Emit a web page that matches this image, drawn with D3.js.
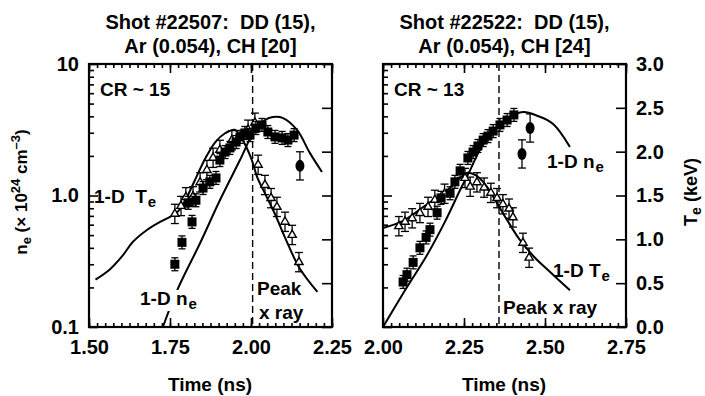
<!DOCTYPE html>
<html>
<head>
<meta charset="utf-8">
<script src="https://cdn.jsdelivr.net/npm/d3@7"></script>
<style>
  body { margin: 0; background: #fff; }
  svg text { font-family: "Liberation Sans", Arial, Helvetica, sans-serif; font-weight: bold; fill: #000; white-space: pre; }
</style>
</head>
<body>
<svg id="chart" width="705" height="396"></svg>
<script>
// ---------- Shot #22507 (left panel) ----------
const leftTitle = ["Shot #22507:  DD (15),", "Ar (0.054), CH [20]"];
const leftCR = "CR ~ 15";
const leftTimeTicks = [1.50, 1.75, 2.00, 2.25];
const leftXray = 2.005;

// measured electron density (10^24 cm^-3), filled squares
const leftNeTime = [1.765, 1.787, 1.818, 1.806, 1.830, 1.852, 1.873, 1.892, 1.904, 1.920, 1.935,
                    1.954, 1.966, 1.981, 1.997, 2.015, 2.034, 2.052, 2.074, 2.096, 2.114, 2.133];
const leftNe     = [0.30, 0.44, 0.63, 0.88, 0.92, 1.14, 1.27, 1.36, 1.86, 2.14, 2.30,
                    2.55, 2.79, 2.99, 2.88, 3.26, 3.44, 3.04, 2.79, 2.74, 2.64, 2.88];
// late-time density points, filled ovals
const leftNeOvalTime = [2.151];
const leftNeOval     = [1.68];
// measured electron temperature (keV), open triangles
const leftTeTime = [1.765, 1.784, 1.799, 1.821, 1.843, 1.864, 1.883, 1.904, 1.941, 1.991, 2.012,
                    2.022, 2.043, 2.062, 2.080, 2.105, 2.127, 2.148];
const leftTe     = [1.29, 1.38, 1.48, 1.49, 1.65, 1.79, 1.93, 2.02, 2.13, 2.25, 2.33,
                    1.85, 1.62, 1.47, 1.37, 1.20, 1.05, 0.74];
// 1-D simulation curves
const leftNeModelTime = [1.728, 1.772, 1.843, 1.904, 1.966, 2.012, 2.043, 2.068, 2.099, 2.142, 2.182, 2.219];
const leftNeModel     = [0.10, 0.19, 0.435, 0.92, 1.86, 3.15, 3.75, 3.95, 3.88, 3.15, 2.10, 1.51];
const leftTeModelTime = [1.52, 1.565, 1.605, 1.635, 1.68, 1.73, 1.77, 1.795, 1.825, 1.86, 1.89,
                         1.92, 1.95, 1.97, 2.00, 2.02, 2.045, 2.075, 2.105, 2.15, 2.205];
const leftTeModel     = [0.54, 0.66, 0.82, 0.97, 1.11, 1.22, 1.30, 1.43, 1.66, 1.93, 2.11,
                         2.21, 2.25, 2.16, 1.93, 1.70, 1.51, 1.28, 1.02, 0.67, 0.40];

// ---------- Shot #22522 (right panel) ----------
const rightTitle = ["Shot #22522:  DD (15),", "Ar (0.054), CH [24]"];
const rightCR = "CR ~ 13";
const rightTimeTicks = [2.00, 2.25, 2.50, 2.75];
const rightXray = 2.358;

const rightNeTime = [2.062, 2.074, 2.093, 2.114, 2.133, 2.145, 2.167, 2.179, 2.207, 2.222,
                     2.238, 2.262, 2.278, 2.293, 2.309, 2.324, 2.340, 2.361, 2.383, 2.404];
const rightNe     = [0.22, 0.25, 0.31, 0.40, 0.48, 0.55, 0.74, 0.96, 1.04, 1.27,
                     1.54, 1.93, 2.14, 2.38, 2.64, 2.83, 3.09, 3.44, 3.75, 4.10];
const rightNeOvalTime = [2.429, 2.454];
const rightNeOval     = [2.07, 3.26];
const rightTeTime = [2.049, 2.068, 2.090, 2.114, 2.139, 2.160, 2.190, 2.253, 2.269, 2.290,
                     2.312, 2.333, 2.352, 2.370, 2.389, 2.401, 2.432, 2.451];
const rightTe     = [1.15, 1.20, 1.24, 1.30, 1.37, 1.45, 1.52, 1.70, 1.60, 1.65,
                     1.59, 1.53, 1.47, 1.40, 1.35, 1.25, 0.96, 0.79];
const rightNeModelTime = [2.000, 2.068, 2.136, 2.191, 2.238, 2.269, 2.299, 2.340, 2.386, 2.432, 2.478, 2.525, 2.577];
const rightNeModel     = [0.10, 0.19, 0.353, 0.63, 1.10, 1.56, 2.22, 3.09, 3.88, 4.31, 4.02, 3.50, 2.34];
const rightTeModelTime = [2.000, 2.062, 2.136, 2.198, 2.238, 2.262, 2.287, 2.315, 2.346, 2.383, 2.423, 2.469, 2.515, 2.577];
const rightTeModel     = [1.13, 1.21, 1.40, 1.56, 1.70, 1.76, 1.73, 1.63, 1.45, 1.22, 0.99, 0.79, 0.63, 0.42];

// uncertainties
const teError = 0.11;        // keV, half-height of triangle error bars
const neErrorFactor = 1.12;  // multiplicative, squares
const ovalErrorFactor = 1.28;

// axis tick values
const neMajorTicks = [0.1, 1, 10];
const neMajorLabels = ["0.1", "1.0", "10"];
const neMinorTicks = [0.2, 0.3, 0.4, 0.5, 0.6, 0.7, 0.8, 0.9, 2, 3, 4, 5, 6, 7, 8, 9];
const teTicks = [0, 0.5, 1.0, 1.5, 2.0, 2.5, 3.0];

// ---------- layout ----------
const svg = d3.select("#chart");
const plotTop = 64, plotBottom = 327;
const fontSize = 20;

const yNe = d3.scaleLog().domain([0.1, 10]).range([plotBottom, plotTop]);
const yTe = d3.scaleLinear().domain([0, 3]).range([plotBottom, plotTop]);

const panels = [
  { x0: 89, x1: 332, domain: [1.5, 2.25], title: leftTitle, cr: leftCR, ticks: leftTimeTicks, xray: leftXray,
    neT: leftNeTime, ne: leftNe, ovT: leftNeOvalTime, ov: leftNeOval, teT: leftTeTime, te: leftTe,
    nmT: leftNeModelTime, nm: leftNeModel, tmT: leftTeModelTime, tm: leftTeModel },
  { x0: 383, x1: 626, domain: [2.0, 2.75], title: rightTitle, cr: rightCR, ticks: rightTimeTicks, xray: rightXray,
    neT: rightNeTime, ne: rightNe, ovT: rightNeOvalTime, ov: rightNeOval, teT: rightTeTime, te: rightTe,
    nmT: rightNeModelTime, nm: rightNeModel, tmT: rightTeModelTime, tm: rightTeModel }
];

function styleAxis(sel) {
  sel.select(".domain").remove();
  sel.selectAll(".tick line").attr("stroke", "#000").attr("stroke-width", 1.6);
  sel.selectAll(".tick text").attr("font-size", fontSize).attr("font-family", null).attr("fill", "#000");
  sel.attr("font-size", null).attr("font-family", null);
}

// subscripted "1-D Tₑ" / "1-D nₑ" label
function subLabel(g, x, y, main, sub) {
  const t = g.append("text").attr("x", x).attr("y", y).attr("font-size", 19);
  t.append("tspan").text(main);
  t.append("tspan").attr("dx", 1).attr("dy", 4).attr("font-size", 15).text(sub);
  return t;
}

panels.forEach((p, i) => {
  const g = svg.append("g");
  const x = d3.scaleLinear().domain(p.domain).range([p.x0, p.x1]);
  const minorTime = d3.range(p.domain[0], p.domain[1] + 1e-9, 0.025);

  // titles
  const cx = (p.x0 + p.x1) / 2;
  g.append("text").attr("x", cx).attr("y", 29).attr("text-anchor", "middle").attr("font-size", 20).text(p.title[0]);
  g.append("text").attr("x", cx).attr("y", 53).attr("text-anchor", "middle").attr("font-size", 20).text(p.title[1]);

  // time axes (ticks pointing inward)
  g.append("g").attr("transform", `translate(0,${plotBottom})`)
    .call(d3.axisBottom(x).tickValues(minorTime).tickSize(-4).tickSizeOuter(0).tickFormat(""))
    .call(styleAxis);
  g.append("g").attr("transform", `translate(0,${plotBottom})`)
    .call(d3.axisBottom(x).tickValues(p.ticks).tickSize(-9).tickSizeOuter(0).tickPadding(13).tickFormat(d3.format(".2f")))
    .call(styleAxis);
  g.append("g").attr("transform", `translate(0,${plotTop})`)
    .call(d3.axisTop(x).tickValues(minorTime).tickSize(-4).tickSizeOuter(0).tickFormat(""))
    .call(styleAxis);
  g.append("g").attr("transform", `translate(0,${plotTop})`)
    .call(d3.axisTop(x).tickValues(p.ticks).tickSize(-9).tickSizeOuter(0).tickFormat(""))
    .call(styleAxis);

  // density axis (log) on the left edge
  g.append("g").attr("transform", `translate(${p.x0},0)`)
    .call(d3.axisLeft(yNe).tickValues(neMinorTicks).tickSize(-5).tickSizeOuter(0).tickFormat(""))
    .call(styleAxis);
  g.append("g").attr("transform", `translate(${p.x0},0)`)
    .call(d3.axisLeft(yNe).tickValues(neMajorTicks).tickSize(-9).tickSizeOuter(0).tickPadding(10)
      .tickFormat((d, k) => i === 0 ? neMajorLabels[k] : ""))
    .call(styleAxis);

  // temperature axis on the right edge
  g.append("g").attr("transform", `translate(${p.x1},0)`)
    .call(d3.axisRight(yTe).tickValues(teTicks).tickSize(-10).tickSizeOuter(0).tickPadding(10)
      .tickFormat(i === 1 ? d3.format(".1f") : ""))
    .call(styleAxis);

  // frame
  g.append("rect").attr("x", p.x0).attr("y", plotTop).attr("width", p.x1 - p.x0).attr("height", plotBottom - plotTop)
    .attr("fill", "none").attr("stroke", "#000").attr("stroke-width", 2.2);

  // peak x-ray time
  g.append("line").attr("x1", x(p.xray)).attr("x2", x(p.xray)).attr("y1", plotTop).attr("y2", plotBottom)
    .attr("stroke", "#000").attr("stroke-width", 1.4).attr("stroke-dasharray", "7,4");

  // 1-D simulation curves
  const neLine = d3.line().x(d => x(d[0])).y(d => yNe(d[1])).curve(d3.curveCatmullRom.alpha(0.5));
  const teLine = d3.line().x(d => x(d[0])).y(d => yTe(d[1])).curve(d3.curveCatmullRom.alpha(0.5));
  g.append("path").attr("d", neLine(d3.zip(p.nmT, p.nm))).attr("fill", "none").attr("stroke", "#000").attr("stroke-width", 2);
  g.append("path").attr("d", teLine(d3.zip(p.tmT, p.tm))).attr("fill", "none").attr("stroke", "#000").attr("stroke-width", 2);

  // temperature data: open triangles with error bars
  const teData = d3.zip(p.teT, p.te);
  const teG = g.append("g").attr("stroke", "#000").attr("stroke-width", 1.3);
  teData.forEach(([t, v]) => {
    const px = x(t), y1 = yTe(v + teError), y2 = yTe(v - teError);
    teG.append("line").attr("x1", px).attr("x2", px).attr("y1", y1).attr("y2", y2);
    teG.append("line").attr("x1", px - 4).attr("x2", px + 4).attr("y1", y1).attr("y2", y1);
    teG.append("line").attr("x1", px - 4).attr("x2", px + 4).attr("y1", y2).attr("y2", y2);
  });
  teG.selectAll("path.tri").data(teData).join("path")
    .attr("d", d3.symbol(d3.symbolTriangle, 30))
    .attr("transform", d => `translate(${x(d[0])},${yTe(d[1])})`)
    .attr("fill", "#fff").attr("stroke", "#000").attr("stroke-width", 1.4);

  // density data: filled squares with error bars
  const neData = d3.zip(p.neT, p.ne);
  const neG = g.append("g").attr("stroke", "#000").attr("stroke-width", 1.3);
  neData.forEach(([t, v]) => {
    const px = x(t), y1 = yNe(v * neErrorFactor), y2 = yNe(v / neErrorFactor);
    neG.append("line").attr("x1", px).attr("x2", px).attr("y1", y1).attr("y2", y2);
    neG.append("line").attr("x1", px - 3.5).attr("x2", px + 3.5).attr("y1", y1).attr("y2", y1);
    neG.append("line").attr("x1", px - 3.5).attr("x2", px + 3.5).attr("y1", y2).attr("y2", y2);
  });
  neG.selectAll("rect.sq").data(neData).join("rect")
    .attr("x", d => x(d[0]) - 4.5).attr("y", d => yNe(d[1]) - 4.5).attr("width", 9).attr("height", 9)
    .attr("fill", "#000").attr("stroke", "none");

  // late-time density: filled ovals with wider error bars
  const ovData = d3.zip(p.ovT, p.ov);
  ovData.forEach(([t, v]) => {
    const px = x(t), y1 = yNe(v * ovalErrorFactor), y2 = yNe(v / ovalErrorFactor);
    neG.append("line").attr("x1", px).attr("x2", px).attr("y1", y1).attr("y2", y2);
    neG.append("line").attr("x1", px - 4).attr("x2", px + 4).attr("y1", y1).attr("y2", y1);
    neG.append("line").attr("x1", px - 4).attr("x2", px + 4).attr("y1", y2).attr("y2", y2);
    neG.append("ellipse").attr("cx", px).attr("cy", yNe(v)).attr("rx", 4.5).attr("ry", 6)
      .attr("fill", "#000").attr("stroke", "none");
  });

  // in-panel annotations
  g.append("text").attr("x", p.x0 + 11).attr("y", 96).attr("font-size", 19).text(p.cr);
});

// curve and timing labels
const ann = svg.append("g");
subLabel(ann, 94, 203, "1-D  T", "e");
// this label sits on top of the density curve, so blank out the line behind it
const neBack = ann.append("rect").attr("fill", "#fff");
const neLabel = subLabel(ann, 140, 305, "1-D n", "e");
const bb = neLabel.node().getBBox();
neBack.attr("x", bb.x - 1).attr("y", bb.y + 2).attr("width", bb.width + 2).attr("height", bb.height - 3);
ann.append("text").attr("x", 257).attr("y", 295).attr("font-size", 19).text("Peak");
ann.append("text").attr("x", 259).attr("y", 319).attr("font-size", 19).text("x ray");
subLabel(ann, 547, 168, "1-D n", "e");
subLabel(ann, 553, 277, "1-D T", "e");
ann.append("text").attr("x", 503).attr("y", 314).attr("font-size", 19).text("Peak x ray");

// axis titles
[210, 504].forEach(cx => {
  ann.append("text").attr("x", cx).attr("y", 391).attr("text-anchor", "middle").attr("font-size", 19).text("Time (ns)");
});
const yl = ann.append("text").attr("transform", "translate(27,192) rotate(-90)").attr("text-anchor", "middle").attr("font-size", 17);
yl.append("tspan").text("n");
yl.append("tspan").attr("font-size", 13).attr("dy", 4).text("e");
yl.append("tspan").attr("dy", -4).text(" (× 10");
yl.append("tspan").attr("font-size", 13).attr("dy", -7).text("24");
yl.append("tspan").attr("dy", 7).text(" cm");
yl.append("tspan").attr("font-size", 13).attr("dy", -7).text("–3");
yl.append("tspan").attr("dy", 7).text(")");
const yr = ann.append("text").attr("transform", "translate(697,192) rotate(-90)").attr("text-anchor", "middle").attr("font-size", 18);
yr.append("tspan").text("T");
yr.append("tspan").attr("font-size", 14).attr("dy", 4).text("e");
yr.append("tspan").attr("dy", -4).text(" (keV)");
</script>
</body>
</html>
